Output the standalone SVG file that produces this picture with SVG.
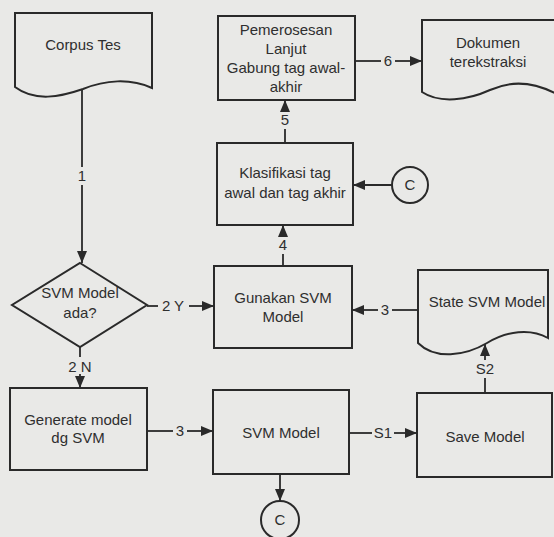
<svg xmlns="http://www.w3.org/2000/svg" width="554" height="537" viewBox="0 0 554 537">
<defs>
<marker id="ah" viewBox="0 0 12 10" refX="12" refY="5" markerWidth="12" markerHeight="10" markerUnits="userSpaceOnUse" orient="auto">
<path d="M0,0 L12,5 L0,10 Z" fill="#2a2a2a"/>
</marker>
<style>
.sh{fill:#e9e9e7;stroke:#2a2a2a;stroke-width:2}
.t{font-family:"Liberation Sans",Arial,sans-serif;font-size:15px;fill:#2f2f2f;text-anchor:middle}
.ln{fill:none;stroke:#2a2a2a;stroke-width:1.8}
.ar{fill:none;stroke:#2a2a2a;stroke-width:1.8;marker-end:url(#ah)}
</style>
</defs>
<rect width="554" height="537" fill="#e9e9e7"/>

<g id="corpus">
<path class="sh" d="M15,87 C35,102 60,97 83,89 C105,80 130,78 152,88 V13 H15 Z"/>
<text class="t" x="83" y="50">Corpus Tes</text>
</g>
<g id="pemerosesan">
<rect class="sh" x="218" y="16" width="137" height="84"/>
<text class="t" x="286" y="35">Pemerosesan</text>
<text class="t" x="286" y="54">Lanjut</text>
<text class="t" x="286" y="73">Gabung tag awal-</text>
<text class="t" x="286" y="92">akhir</text>
</g>
<g id="dokumen">
<path class="sh" d="M422,92 C440,104 468,100 490,90 C512,80 536,82 560,96 V20 H422 Z"/>
<text class="t" x="488" y="48">Dokumen</text>
<text class="t" x="488" y="67">terekstraksi</text>
</g>
<g id="klasifikasi">
<rect class="sh" x="217" y="143" width="136" height="82"/>
<text class="t" x="285" y="178">Klasifikasi tag</text>
<text class="t" x="285" y="198">awal dan tag akhir</text>
</g>
<g id="c-top">
<circle class="sh" cx="410" cy="185" r="18"/>
<text class="t" x="410" y="190">C</text>
</g>
<g id="decision">
<path class="sh" d="M80,263 L147,305 L80,347 L12,305 Z"/>
<text class="t" x="80" y="298">SVM Model</text>
<text class="t" x="80" y="318">ada?</text>
</g>
<g id="gunakan">
<rect class="sh" x="214" y="266" width="138" height="82"/>
<text class="t" x="283" y="303">Gunakan SVM</text>
<text class="t" x="283" y="322">Model</text>
</g>
<g id="state">
<path class="sh" d="M418,343 C435,360 465,356 487,343 C507,331 530,328 548,338 V270 H418 Z"/>
<text class="t" x="487" y="307">State SVM Model</text>
</g>
<g id="generate">
<rect class="sh" x="10" y="388" width="137" height="82"/>
<text class="t" x="78" y="425">Generate model</text>
<text class="t" x="78" y="443">dg SVM</text>
</g>
<g id="svmmodel">
<rect class="sh" x="213" y="390" width="136" height="84"/>
<text class="t" x="281" y="438">SVM Model</text>
</g>
<g id="save">
<rect class="sh" x="417" y="393" width="135" height="84"/>
<text class="t" x="485" y="442">Save Model</text>
</g>
<g id="c-bottom">
<circle class="sh" cx="280" cy="520" r="19"/>
<text class="t" x="280" y="525">C</text>
</g>

<g id="connectors">
<line class="ln" x1="82" y1="90" x2="82" y2="167"/>
<line class="ar" x1="82" y1="185" x2="82" y2="263"/>
<text class="t" x="82" y="181">1</text>

<line class="ln" x1="147" y1="306" x2="158" y2="306"/>
<line class="ar" x1="189" y1="306" x2="214" y2="306"/>
<text class="t" x="173" y="311">2 Y</text>

<line class="ln" x1="80" y1="347" x2="80" y2="357"/>
<line class="ar" x1="80" y1="374" x2="80" y2="388"/>
<text class="t" x="80" y="372">2 N</text>

<line class="ln" x1="147" y1="431" x2="173" y2="431"/>
<line class="ar" x1="187" y1="431" x2="213" y2="431"/>
<text class="t" x="180" y="436">3</text>

<line class="ln" x1="349" y1="433" x2="372" y2="433"/>
<line class="ar" x1="394" y1="433" x2="417" y2="433"/>
<text class="t" x="383" y="438">S1</text>

<line class="ln" x1="485" y1="393" x2="485" y2="378"/>
<line class="ar" x1="485" y1="360" x2="485" y2="344"/>
<text class="t" x="485" y="374">S2</text>

<line class="ln" x1="418" y1="310" x2="392" y2="310"/>
<line class="ar" x1="378" y1="310" x2="352" y2="310"/>
<text class="t" x="385" y="315">3</text>

<line class="ln" x1="283" y1="266" x2="283" y2="254"/>
<line class="ar" x1="283" y1="237" x2="283" y2="225"/>
<text class="t" x="283" y="250">4</text>

<line class="ar" x1="392" y1="185" x2="353" y2="185"/>

<line class="ln" x1="285" y1="143" x2="285" y2="129"/>
<line class="ar" x1="285" y1="112" x2="285" y2="100"/>
<text class="t" x="285" y="125">5</text>

<line class="ln" x1="355" y1="61" x2="381" y2="61"/>
<line class="ar" x1="395" y1="61" x2="422" y2="61"/>
<text class="t" x="388" y="66">6</text>

<line class="ar" x1="280" y1="474" x2="280" y2="501"/>
</g>
</svg>
